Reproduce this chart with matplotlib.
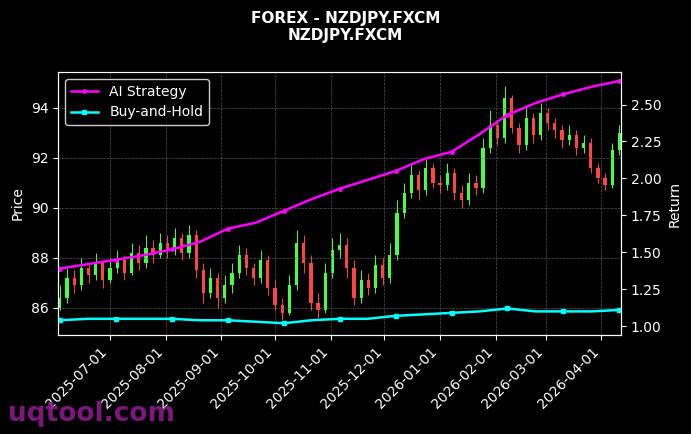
import matplotlib
matplotlib.use('Agg')
import matplotlib.pyplot as plt
import matplotlib.dates as mdates
import pandas as pd

# candle data (every 4 days)
closes = [86.4, 87.2, 86.9, 87.6, 87.3, 87.8, 87.1, 87.6,
          87.9, 87.4, 88.2, 87.8, 88.4, 88.1, 88.6, 88.3,
          88.8, 88.2, 88.9, 87.5, 86.6, 87.2, 86.4, 86.9,
          87.4, 88.1, 87.6, 87.2, 87.9, 86.8, 86.1,
          85.8, 86.9, 88.6, 87.8, 86.2, 85.9, 87.4, 88.3,
          88.5, 87.6, 86.4, 87.1, 86.8, 87.7, 87.2, 88.1,
          89.8, 90.6, 91.3, 90.7, 91.6, 91.0, 90.9,
          91.4, 90.6, 90.3, 91.0, 90.8, 92.4, 93.3, 92.8,
          94.4, 93.2, 92.5, 93.6, 92.9, 93.8, 93.4,
          93.1, 92.7, 92.9, 92.4, 92.6, 91.6, 91.2, 90.9,
          92.3, 93.0]
opens = [86.0] + closes[:-1]
highs = [86.9, 87.6, 87.5, 88.0, 87.8, 88.2, 87.9, 88.0,
         88.3, 88.1, 88.6, 88.5, 88.9, 88.7, 89.0, 88.9,
         89.2, 89.0, 89.3, 89.1, 87.8, 87.6, 87.4, 87.3,
         87.8, 88.5, 88.4, 87.8, 88.3, 88.1, 87.1,
         86.4, 87.3, 89.1, 88.9, 88.1, 86.6, 87.8, 88.8,
         89.0, 88.8, 87.9, 87.5, 87.4, 88.1, 88.0, 88.6,
         90.3, 91.0, 91.7, 91.5, 91.9, 91.8, 91.3,
         91.8, 91.6, 90.9, 91.4, 91.3, 92.8, 93.9, 93.5,
         94.9, 94.5, 93.4, 94.0, 93.8, 94.2, 94.0,
         93.6, 93.3, 93.3, 93.1, 92.9, 92.8, 91.8, 91.4,
         92.6, 93.3]
lows = [85.9, 86.2, 86.6, 86.7, 87.0, 87.1, 86.8, 87.0,
        87.4, 87.1, 87.3, 87.5, 87.6, 87.8, 88.0, 88.0,
        88.1, 87.9, 88.0, 87.2, 86.2, 86.4, 86.0, 86.2,
        86.6, 87.2, 87.3, 86.9, 87.0, 86.5, 85.9,
        85.5, 85.7, 86.7, 87.4, 85.9, 85.6, 85.8, 87.2,
        88.0, 87.2, 86.1, 86.2, 86.5, 86.6, 86.9, 87.0,
        87.9, 89.6, 90.4, 90.3, 90.5, 90.8, 90.6,
        90.7, 90.3, 90.0, 90.1, 90.5, 90.6, 92.2, 92.5,
        92.6, 93.0, 92.2, 92.3, 92.6, 92.7, 93.1,
        92.8, 92.4, 92.5, 92.1, 92.2, 91.4, 91.0, 90.7,
        90.8, 92.1]

# strategy returns
ai_strategy = [1.39, 1.42, 1.45, 1.48, 1.52, 1.57, 1.66, 1.70, 1.78, 1.86,
               1.93, 1.99, 2.05, 2.13, 2.18, 2.30, 2.43, 2.51, 2.57, 2.62, 2.66]
buy_hold = [1.04, 1.05, 1.05, 1.05, 1.05, 1.04, 1.04, 1.03, 1.02, 1.04,
            1.05, 1.05, 1.07, 1.08, 1.09, 1.10, 1.12, 1.10, 1.10, 1.10, 1.11]

dates = pd.date_range('2025-06-03', periods=len(closes), freq='4D')
ret_dates = pd.date_range('2025-06-03', '2026-04-11', periods=len(ai_strategy))

plt.style.use('dark_background')
fig = plt.figure(figsize=(6.91, 4.34), dpi=100)
ax = fig.add_axes([0.084, 0.228, 0.815, 0.606])
ax2 = ax.twinx()

for d, o, c, h, l in zip(dates, opens, closes, highs, lows):
    col = '#44ff44' if c >= o else '#ff4444'
    x = mdates.date2num(d)
    ax.vlines(x, l, h, color=col, lw=0.7)
    ax.bar(x, abs(c - o) if abs(c - o) > 0.05 else 0.05, bottom=min(o, c), width=1.8, color=col)

ax2.plot(ret_dates, ai_strategy, color='#ff00ff', lw=1.8, marker='o', ms=2.5, markevery=2, label='AI Strategy')
ax2.plot(ret_dates, buy_hold, color='#00ffff', lw=1.8, marker='s', ms=2.5, markevery=2, label='Buy-and-Hold')

ax.set_xlim(mdates.datestr2num('2025-06-02'), mdates.datestr2num('2026-04-12'))
ax.set_ylim(84.9, 95.44)
ax2.set_ylim(0.94, 2.72)
ax.set_yticks([86, 88, 90, 92, 94])
ax2.set_yticks([1.0, 1.25, 1.5, 1.75, 2.0, 2.25, 2.5])
ax.xaxis.set_major_locator(mdates.MonthLocator())
ax.xaxis.set_major_formatter(mdates.DateFormatter('%Y-%m-%d'))
plt.setp(ax.get_xticklabels(), rotation=45, ha='right')
ax.grid(True, ls='--', lw=0.5, color='#555555')
ax.set_ylabel('Price')
ax2.set_ylabel('Return')
ax2.legend(loc='upper left', facecolor='black', edgecolor='white')

fig.suptitle('FOREX - NZDJPY.FXCM\nNZDJPY.FXCM', fontweight='bold', fontsize=11, y=0.975)
fig.text(0.012, 0.03, 'uqtool.com', color='#8b1a8b', fontsize=19, fontweight='bold', alpha=0.9)

fig.savefig('out.png', dpi=100, facecolor='black')
